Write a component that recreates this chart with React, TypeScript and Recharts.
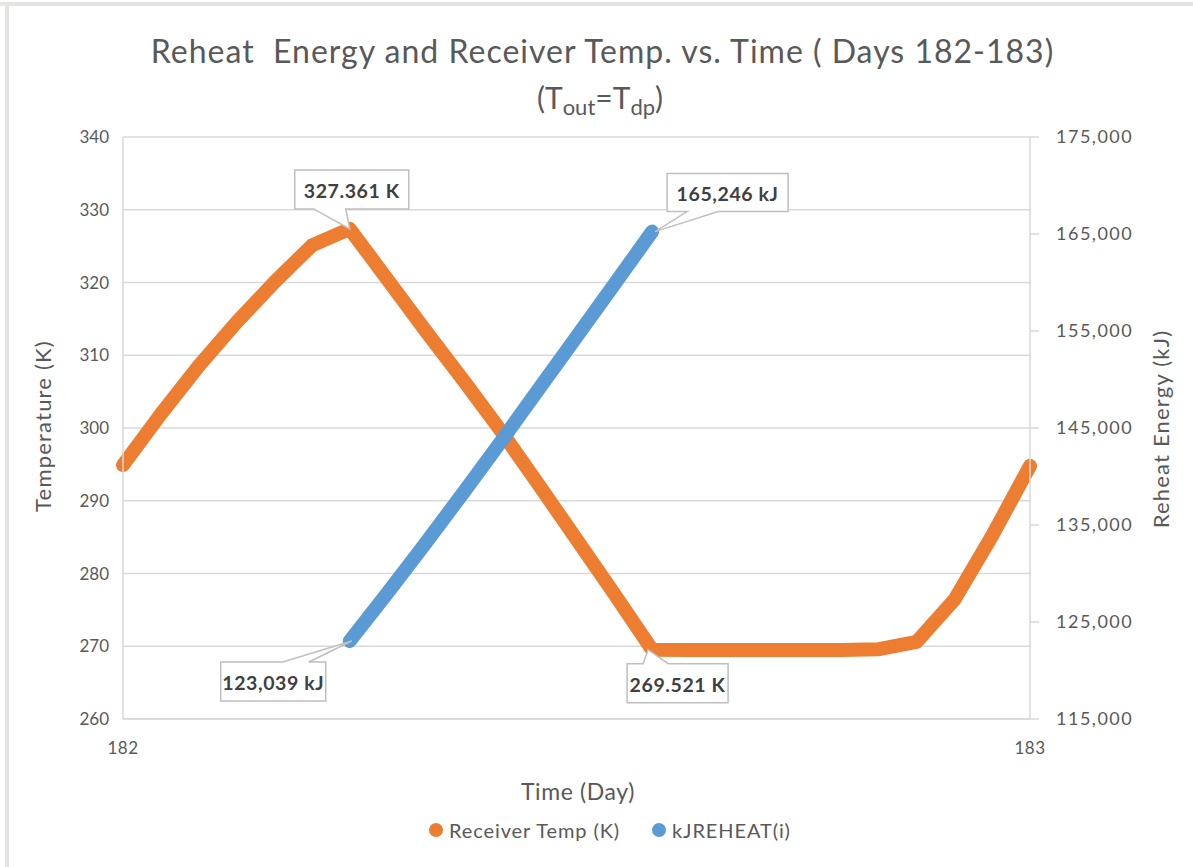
import React from 'react';
import { LineChart, Line, XAxis, YAxis, CartesianGrid } from 'recharts';

// ---- data ----
const hours = [0, 1, 2, 3, 4, 5, 6, 7, 8, 9, 10, 11, 12, 13, 14, 15, 16, 17, 18, 19, 20, 21, 22, 23, 24];
const receiverTemp = [294.9, 301.9, 308.5, 314.5, 320.0, 325.1, 327.361, 320.4, 313.4, 306.6, 299.6, 292.2, 284.7, 277.2, 269.521, 269.5, 269.5, 269.5, 269.5, 269.5, 269.6, 270.6, 276.4, 285.2, 294.8];
const kjReheat: (number | null)[] = [null, null, null, null, null, null, 123039, 128000, 133100, 138300, 143600, 149000, 154400, 159800, 165246, null, null, null, null, null, null, null, null, null, null];
const startDay = 182;
const xTicks = [182, 183];
const leftTicks = [260, 270, 280, 290, 300, 310, 320, 330, 340];
const rightTicks = [115000, 125000, 135000, 145000, 155000, 165000, 175000];

const data = hours.map((h, i) => ({ day: startDay + h / 24, temp: receiverTemp[i], kj: kjReheat[i] }));

const ORANGE = '#ED7D31';
const BLUE = '#5B9BD5';
const TEXT = '#595959';
const GRID = '#D9D9D9';
const FONT = 'Lato, "Open Sans", sans-serif';

type Callout = { text: string; l: number; t: number; r: number; b: number; side: 'top' | 'bottom'; b1: number; b2: number; tx: number; ty: number };

const tempCallouts: Record<number, Callout> = {
  6: { text: '327.361 K', l: -55, t: -59, r: 59, b: -20, side: 'bottom', b1: -36, b2: -4, tx: 0, ty: 0 },
  14: { text: '269.521 K', l: -25, t: 14, r: 76, b: 53, side: 'top', b1: -9, b2: 16, tx: -4, ty: 0 },
};
const kjCallouts: Record<number, Callout> = {
  6: { text: '123,039 kJ', l: -129, t: 21, r: -24, b: 60, side: 'top', b1: -67, b2: -41, tx: 2, ty: 0 },
  14: { text: '165,246 kJ', l: 15, t: -58, r: 136, b: -20, side: 'bottom', b1: 35, b2: 66, tx: 3, ty: 0 },
};

const makeLabel = (map: Record<number, Callout>) => (props: any) => {
  const { x, y, index } = props;
  const c = map[index];
  if (!c || x == null || y == null) return null;
  const L = x + c.l, T = y + c.t, R = x + c.r, B = y + c.b;
  const tx = x + c.tx, ty = y + c.ty;
  let d: string;
  if (c.side === 'bottom') {
    d = `M${L},${T} H${R} V${B} H${x + c.b2} L${tx},${ty} L${x + c.b1},${B} H${L} Z`;
  } else {
    d = `M${L},${T} H${x + c.b1} L${tx},${ty} L${x + c.b2},${T} H${R} V${B} H${L} Z`;
  }
  return (
    <g key={`callout-${index}`}>
      <path d={d} fill="#FFFFFF" stroke="#BFBFBF" strokeWidth={1.5} />
      <text x={(L + R) / 2} y={(T + B) / 2 + 1} textAnchor="middle" dominantBaseline="central" fontFamily={FONT} fontWeight={700} fontSize={19.5} letterSpacing={0.6} fill="#404040">
        {c.text}
      </text>
    </g>
  );
};

const fmtComma = (v: number) => v.toLocaleString('en-US');

export default function App() {
  return (
    <div style={{ position: 'absolute', left: 0, top: 0, width: 1193, height: 867, background: '#FFFFFF', overflow: 'hidden', fontFamily: FONT }}>
      <div style={{ position: 'absolute', left: 0, top: 2, width: 1193, height: 4, background: '#E4E4E2' }} />
      <div style={{ position: 'absolute', left: 5, top: 4, width: 4, height: 863, background: '#E4E4E2' }} />

      <div style={{ position: 'absolute', left: 0, width: 1205, top: 31, textAlign: 'center', fontSize: 32, letterSpacing: 1, color: TEXT, lineHeight: '40px', whiteSpace: 'pre' }}>
        {'Reheat  Energy and Receiver Temp. vs. Time ( Days 182-183)'}
      </div>
      <div style={{ position: 'absolute', left: 0, width: 1200, top: 78, textAlign: 'center', fontSize: 30, color: TEXT, lineHeight: '38px' }}>
        (T<sub style={{ fontSize: 22, verticalAlign: '-0.25em' }}>out</sub>=T<sub style={{ fontSize: 22, verticalAlign: '-0.25em' }}>dp</sub>)
      </div>

      <div style={{ position: 'absolute', left: 0, top: 0 }}>
        <LineChart width={1193} height={867} data={data} margin={{ top: 137, right: 0, bottom: 108, left: 0 }}>
          <CartesianGrid yAxisId="left" vertical={false} stroke={GRID} strokeWidth={1.5} />
          <XAxis
            dataKey="day"
            type="number"
            domain={[182, 183]}
            ticks={xTicks}
            height={40}
            axisLine={{ stroke: GRID, strokeWidth: 1.5 }}
            tickLine={false}
            tickSize={6}
            tickMargin={17}
            tick={{ fill: TEXT, fontSize: 17, fontFamily: FONT, letterSpacing: 0.5 }}
          />
          <YAxis
            yAxisId="left"
            orientation="left"
            width={123}
            domain={[260, 340]}
            ticks={leftTicks}
            interval={0}
            axisLine={{ stroke: GRID, strokeWidth: 1.5 }}
            tickLine={false}
            tickSize={6}
            tickMargin={8}
            tick={{ fill: TEXT, fontSize: 17, fontFamily: FONT }}
          />
          <YAxis
            yAxisId="right"
            orientation="right"
            width={163}
            domain={[115000, 175000]}
            ticks={rightTicks}
            interval={0}
            tickFormatter={fmtComma}
            axisLine={{ stroke: GRID, strokeWidth: 1.5 }}
            tickLine={{ stroke: GRID, strokeWidth: 1.5 }}
            tickSize={9}
            tickMargin={17}
            tick={{ fill: TEXT, fontSize: 18, fontFamily: FONT, letterSpacing: 1.5 }}
          />
          <Line
            yAxisId="left"
            type="linear"
            dataKey="temp"
            stroke={ORANGE}
            strokeWidth={14}
            strokeLinecap="round"
            strokeLinejoin="round"
            dot={false}
            activeDot={false}
            isAnimationActive={false}
            label={makeLabel(tempCallouts)}
          />
          <Line
            yAxisId="right"
            type="linear"
            dataKey="kj"
            stroke={BLUE}
            strokeWidth={14}
            strokeLinecap="round"
            strokeLinejoin="round"
            dot={false}
            activeDot={false}
            connectNulls={false}
            isAnimationActive={false}
            label={makeLabel(kjCallouts)}
          />
        </LineChart>
      </div>

      <div style={{ position: 'absolute', left: 42, top: 426, transform: 'translate(-50%, -50%) rotate(-90deg)', fontSize: 22, letterSpacing: 1.2, color: TEXT, whiteSpace: 'nowrap' }}>
        Temperature (K)
      </div>
      <div style={{ position: 'absolute', left: 1160, top: 429, transform: 'translate(-50%, -50%) rotate(-90deg)', fontSize: 22, letterSpacing: 1.2, color: TEXT, whiteSpace: 'nowrap' }}>
        Reheat Energy (kJ)
      </div>
      <div style={{ position: 'absolute', left: 578, top: 791, transform: 'translate(-50%, -50%)', fontSize: 23, letterSpacing: 0.6, color: TEXT, whiteSpace: 'nowrap' }}>
        Time (Day)
      </div>

      <div style={{ position: 'absolute', left: 429, top: 823, width: 14, height: 14, borderRadius: '50%', background: ORANGE }} />
      <div style={{ position: 'absolute', left: 449, top: 830, transform: 'translateY(-50%)', fontSize: 20, letterSpacing: 0.9, color: TEXT, whiteSpace: 'nowrap' }}>
        Receiver Temp (K)
      </div>
      <div style={{ position: 'absolute', left: 652, top: 823, width: 14, height: 14, borderRadius: '50%', background: BLUE }} />
      <div style={{ position: 'absolute', left: 672, top: 830, transform: 'translateY(-50%)', fontSize: 20, letterSpacing: 0.9, color: TEXT, whiteSpace: 'nowrap' }}>
        kJREHEAT(i)
      </div>
    </div>
  );
}
